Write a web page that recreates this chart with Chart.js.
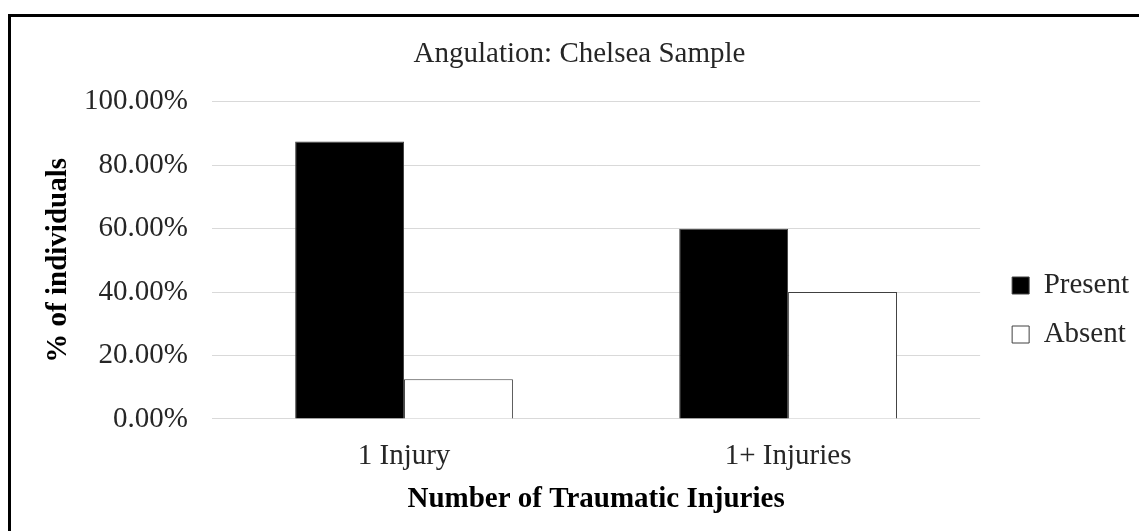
<!DOCTYPE html>
<html>
<head>
<meta charset="utf-8">
<script src="https://cdn.jsdelivr.net/npm/chart.js@4.4.1/dist/chart.umd.min.js"></script>
<style>
  html, body { margin: 0; padding: 0; background: #ffffff; }
  #wrap { position: relative; width: 1139px; height: 531px; overflow: hidden; }
  #frame { position: absolute; left: 8px; top: 14px; width: 1200px; height: 600px;
           border-left: 3px solid #000; border-top: 3px solid #000; box-sizing: border-box; }
  canvas { position: absolute; left: 0; top: 0; }
</style>
</head>
<body>
<div id="wrap">
  <div id="frame"></div>
  <canvas id="c" width="1139" height="531"></canvas>
</div>
<script>
const categories = ['1 Injury', '1+ Injuries'];
const presentValues = [0.875, 0.60];
const absentValues = [0.125, 0.40];
const seriesNames = ['Present', 'Absent'];
const chartTitle = 'Angulation: Chelsea Sample';
const xTitle = 'Number of Traumatic Injuries';
const yTitle = '% of individuals';

const FONT = "'Liberation Serif', 'Times New Roman', serif";
const FS = 29;

new Chart(document.getElementById('c'), {
  type: 'bar',
  data: {
    labels: categories,
    datasets: [
      { label: seriesNames[0], data: presentValues, backgroundColor: '#000000', borderColor: '#404040', borderWidth: 1 },
      { label: seriesNames[1], data: absentValues, backgroundColor: '#ffffff', borderColor: '#404040', borderWidth: 1 }
    ]
  },
  options: {
    responsive: false,
    animation: false,
    devicePixelRatio: 1,
    layout: { padding: { left: 20, right: 0, top: 22, bottom: 11 } },
    datasets: { bar: { barPercentage: 1.0, categoryPercentage: 0.567 } },
    plugins: {
      title: {
        display: true, text: chartTitle, color: '#262626',
        font: { family: FONT, size: FS, weight: 'normal' },
        padding: { top: 15, bottom: 30 }
      },
      legend: {
        position: 'right',
        title: { display: true, text: ' ', font: { family: FONT, size: 20 }, padding: { top: 27, bottom: 27 } },
        labels: {
          color: '#262626',
          font: { family: FONT, size: FS },
          boxWidth: 17, boxHeight: 17, padding: 20
        }
      },
      tooltip: { enabled: false }
    },
    scales: {
      x: {
        grid: { display: false },
        border: { display: false },
        ticks: { color: '#262626', font: { family: FONT, size: FS, lineHeight: 0.9 }, padding: 16 },
        title: { display: true, text: xTitle, color: '#000', font: { family: FONT, size: FS, weight: 'bold', lineHeight: 1 }, padding: { top: 0, bottom: 6 } }
      },
      y: {
        min: 0, max: 1,
        afterFit: s => { s.width = 192; },
        ticks: {
          stepSize: 0.2, color: '#262626', padding: 24,
          font: { family: FONT, size: FS },
          callback: v => (v * 100).toFixed(2) + '%'
        },
        grid: { color: '#d9d9d9', lineWidth: 1, drawTicks: false },
        border: { display: false },
        title: { display: true, text: yTitle, color: '#000', font: { family: FONT, size: FS, weight: 'bold' }, padding: { top: 21, bottom: 10 } }
      },
      spacer: {
        type: 'linear', position: 'right', display: true,
        grid: { display: false }, border: { display: false }, ticks: { display: false },
        afterFit: s => { s.width = 12; }
      }
    }
  }
});
</script>
</body>
</html>
